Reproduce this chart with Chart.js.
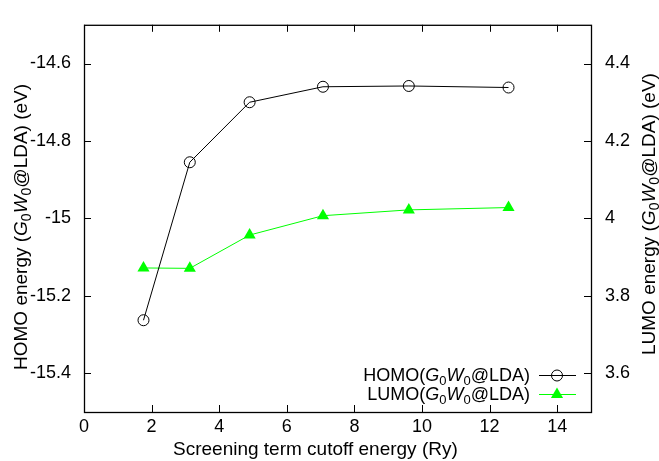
<!DOCTYPE html>
<html>
<head>
<meta charset="utf-8">
<script src="https://cdn.jsdelivr.net/npm/chart.js@4"></script>
<style>
  html, body { margin: 0; padding: 0; background: #fff; }
  #wrap { width: 659px; height: 461px; }
</style>
</head>
<body>
<div id="wrap"><canvas id="gwChart"></canvas></div>
<script>
// Cutoff energies (Ry) and quasiparticle energies (eV)
const cutoff = [1.76, 3.13, 4.9, 7.07, 9.61, 12.56];
const homoEnergy = [-15.263, -14.855, -14.700, -14.660, -14.658, -14.662];
const lumoEnergy = [3.872, 3.871, 3.957, 4.007, 4.022, 4.028];

// Tick values for each axis
const xTicks = [0, 2, 4, 6, 8, 10, 12, 14];
const homoTicks = [-15.4, -15.2, -15, -14.8, -14.6];
const lumoTicks = [3.6, 3.8, 4, 4.2, 4.4];

const FONT = '"Liberation Sans", Arial, Helvetica, sans-serif';
const SIZE = 18;
const TITLE_SIZE = 19;

function toPoints(xs, ys) {
  return xs.map((x, i) => ({ x: x, y: ys[i] }));
}

// Text pieces: n = normal, i = italic, s = subscript
function richParts(label, tail) {
  return [
    { t: label + '(', k: 'n' }, { t: 'G', k: 'i' }, { t: '0', k: 's' },
    { t: 'W', k: 'i' }, { t: '0', k: 's' }, { t: '@LDA)' + (tail || ''), k: 'n' }
  ];
}

function fontFor(k, size) {
  if (k === 'i') return 'italic ' + size + 'px ' + FONT;
  if (k === 's') return Math.round(size * 0.72) + 'px ' + FONT;
  return size + 'px ' + FONT;
}

function richWidth(ctx, parts, size) {
  let w = 0;
  parts.forEach(p => { ctx.font = fontFor(p.k, size); w += ctx.measureText(p.t).width; });
  return w;
}

// draws parts starting at x on the alphabetic baseline y
function drawRich(ctx, parts, x, y, size) {
  ctx.textBaseline = 'alphabetic';
  ctx.textAlign = 'left';
  parts.forEach(p => {
    ctx.font = fontFor(p.k, size);
    ctx.fillText(p.t, x, p.k === 's' ? y + 4 : y);
    x += ctx.measureText(p.t).width;
  });
}

function tickValues(list) {
  return function (scale) { scale.ticks = list.map(v => ({ value: v })); };
}

const framePlugin = {
  id: 'frame',
  afterDraw(chart) {
    const ctx = chart.ctx;
    const a = chart.chartArea;
    const sx = chart.scales.x, sy = chart.scales.y, sy2 = chart.scales.y2;
    const tick = 7;
    ctx.save();
    ctx.strokeStyle = '#000';
    ctx.lineWidth = 1;
    ctx.beginPath();
    xTicks.forEach(v => {
      const px = Math.round(sx.getPixelForValue(v)) + 0.5;
      ctx.moveTo(px, a.bottom); ctx.lineTo(px, a.bottom - tick);
      ctx.moveTo(px, a.top); ctx.lineTo(px, a.top + tick);
    });
    homoTicks.forEach(v => {
      const py = Math.round(sy.getPixelForValue(v)) + 0.5;
      ctx.moveTo(a.left, py); ctx.lineTo(a.left + tick, py);
    });
    lumoTicks.forEach(v => {
      const py = Math.round(sy2.getPixelForValue(v)) + 0.5;
      ctx.moveTo(a.right, py); ctx.lineTo(a.right - tick, py);
    });
    ctx.stroke();
    ctx.lineWidth = 1.3;
    ctx.strokeRect(a.left + 0.5, a.top + 0.5, a.right - a.left, a.bottom - a.top);

    ctx.fillStyle = '#000';
    // x axis title
    ctx.font = TITLE_SIZE + 'px ' + FONT;
    ctx.textAlign = 'left';
    ctx.textBaseline = 'alphabetic';
    ctx.fillText('Screening term cutoff energy (Ry)', 173, 455);

    // rotated y titles, text runs upward from the given start
    [[richParts('HOMO energy ', ' (eV)'), 27, 370], [richParts('LUMO energy ', ' (eV)'), 655, 355]]
      .forEach(([parts, bx, startY]) => {
        ctx.save();
        ctx.translate(bx, startY);
        ctx.rotate(-Math.PI / 2);
        drawRich(ctx, parts, 0, 0, TITLE_SIZE);
        ctx.restore();
      });

    // legend
    const entries = [
      { parts: richParts('HOMO'), base: 381, ds: chart.data.datasets[0] },
      { parts: richParts('LUMO'), base: 400, ds: chart.data.datasets[1] }
    ];
    entries.forEach(e => {
      ctx.fillStyle = '#000';
      drawRich(ctx, e.parts, 530 - richWidth(ctx, e.parts, SIZE), e.base, SIZE);
      const my = e.base - 5.5;
      ctx.strokeStyle = e.ds.borderColor;
      ctx.lineWidth = 1;
      ctx.beginPath();
      ctx.moveTo(539, my); ctx.lineTo(576, my);
      ctx.stroke();
      if (e.ds.pointStyle === 'circle') {
        ctx.beginPath();
        ctx.arc(557, my, e.ds.pointRadius, 0, Math.PI * 2);
        ctx.stroke();
      } else {
        const r = e.ds.pointRadius;
        ctx.fillStyle = e.ds.pointBackgroundColor;
        ctx.beginPath();
        for (let k = 0; k < 3; k++) {
          const ang = k * 2 * Math.PI / 3;
          ctx.lineTo(557 + Math.sin(ang) * r, my - Math.cos(ang) * r);
        }
        ctx.closePath();
        ctx.fill();
      }
    });
    ctx.restore();
  }
};

const ctx = document.getElementById('gwChart').getContext('2d');
const gwChart = new Chart(ctx, {
  type: 'line',
  data: {
    datasets: [{
      label: 'HOMO',
      data: toPoints(cutoff, homoEnergy),
      yAxisID: 'y',
      borderColor: '#000000',
      borderWidth: 1,
      pointStyle: 'circle',
      pointRadius: 5.5,
      pointBorderWidth: 1,
      pointBorderColor: '#000000',
      pointBackgroundColor: 'rgba(0,0,0,0)',
      tension: 0
    }, {
      label: 'LUMO',
      data: toPoints(cutoff, lumoEnergy),
      yAxisID: 'y2',
      borderColor: '#00ff00',
      borderWidth: 1,
      pointStyle: 'triangle',
      pointRadius: 7,
      pointBorderWidth: 0,
      pointBorderColor: '#00ff00',
      pointBackgroundColor: '#00ff00',
      tension: 0
    }]
  },
  options: {
    responsive: true,
    maintainAspectRatio: false,
    animation: false,
    events: [],
    layout: { padding: { top: 7, left: 0, right: 0, bottom: 0 } },
    plugins: { legend: { display: false }, tooltip: { enabled: false } },
    scales: {
      x: {
        type: 'linear',
        min: 0,
        max: 15,
        afterBuildTicks: tickValues(xTicks),
        afterFit(scale) { scale.height = 49; },
        grid: { display: false, drawTicks: false },
        border: { display: false },
        ticks: { color: '#000', padding: 4, maxRotation: 0, font: { family: FONT, size: SIZE } }
      },
      y: {
        type: 'linear',
        position: 'left',
        min: -15.5,
        max: -14.5,
        afterBuildTicks: tickValues(homoTicks),
        afterFit(scale) { scale.width = 84; },
        grid: { display: false, drawTicks: false },
        border: { display: false },
        ticks: {
          color: '#000', padding: 13, font: { family: FONT, size: SIZE },
          callback: v => String(+v.toFixed(1))
        }
      },
      y2: {
        type: 'linear',
        position: 'right',
        min: 3.5,
        max: 4.5,
        afterBuildTicks: tickValues(lumoTicks),
        afterFit(scale) { scale.width = 68; },
        grid: { display: false, drawTicks: false },
        border: { display: false },
        ticks: {
          color: '#000', padding: 14, font: { family: FONT, size: SIZE },
          callback: v => String(+v.toFixed(1))
        }
      }
    }
  },
  plugins: [framePlugin]
});
</script>
</body>
</html>
